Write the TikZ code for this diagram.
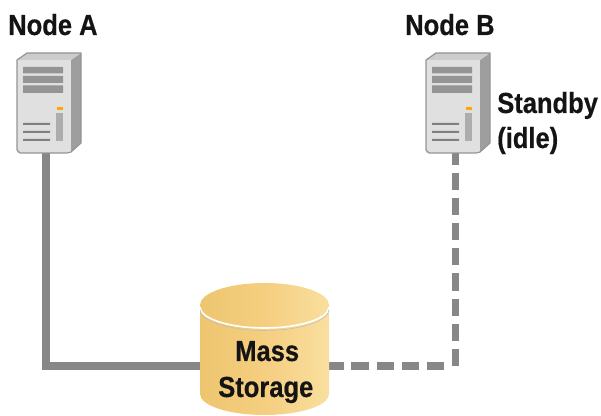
\documentclass[tikz,border=0pt]{standalone}
\usepackage{fontspec}
\setmainfont[FakeStretch=0.88,BoldFeatures={FakeBold=0.5}]{Liberation Sans}
\tikzset{
  x=0.75pt,y=-0.75pt,
  lbl/.style={anchor=base west,inner sep=0pt,font=\fontsize{21.75pt}{26pt}\selectfont\bfseries,text=black!92},
  box/.style={inner sep=0pt,draw=none},
  link/.style={line width=5.6pt,draw=black!47,line join=miter},
  dashlink/.style={link,dash pattern=on 12.9pt off 6pt},
  hdashlink/.style={link,dash pattern=on 13pt off 5.8pt},
  pics/server/.style={code={
    \fill[black!38] (54,7) -- (64,0) -- (64,90) -- (54,99) -- cycle;
    \fill[black!20] (0,7) -- (10,0) -- (64,0) -- (54,7) -- cycle;
    \fill[black!12] (0,7) rectangle (54,100);
    \draw[black!42,line width=0.9pt,line join=round] (0,7) -- (10,0) -- (64,0) -- (64,90) -- (54,99) -- (50,100) -- (3,100) -- (0,97) -- cycle;
    \fill[black!42] (6,14) rectangle (46,20.5) (6,23) rectangle (46,30) (6,32.5) rectangle (46,40);
    \fill[black!50] (6,70) rectangle (33,72) (6,78) rectangle (33,80) (6,86) rectangle (33,88);
    \fill[black!32] (39,60) rectangle (46,88);
    \fill[orange!70!yellow] (40,54) rectangle (46,57);
  }}
}
\definecolor{cylL}{HTML}{EEC670}
\definecolor{cylM}{HTML}{F5CE80}
\definecolor{cylR}{HTML}{F9DF9F}
\begin{document}
\begin{tikzpicture}
\useasboundingbox (0,0) rectangle (601,416);
\node[box,minimum width=40.5pt,minimum height=75pt] (serverA) at (44,103) {};
\node[box,minimum width=40.5pt,minimum height=75pt] (serverB) at (453,103) {};
\node[box,minimum width=96.75pt,minimum height=60pt] (store) at (264.5,366) {};
\coordinate (cornerA) at (46,366);
\coordinate (cornerB) at (455.5,370);
\coordinate (dashH) at (444,366);
\coordinate (srvAout) at (46,150);
\coordinate (srvBout) at (455.5,147.5);
% connectors
\draw[link] (srvAout) -- (cornerA) -- (store.west);
\draw[dashlink] (srvBout) -- (cornerB);
\draw[hdashlink] (dashH) -- (store.east);
% servers
\pic at (17,53) {server};
\pic at (426,53) {server};
% storage
\shade[left color=cylL,right color=cylR,middle color=cylM]
  (200,305) -- (200,394) arc[start angle=180,end angle=0,x radius=64.5,y radius=21] -- (329,305)
  arc[start angle=0,end angle=-180,x radius=64.5,y radius=22];
\draw[white,line width=1.2pt] (200,307) arc[start angle=180,end angle=0,x radius=64.5,y radius=21];
\draw[black!25,line width=0.4pt] (200,309.5) arc[start angle=180,end angle=0,x radius=64.5,y radius=21];
% labels
\node[lbl] (labA) at (8,35) {Node A};
\node[lbl] (labB) at (405,35) {Node B};
\node[lbl] (labS) at (497,113) {Standby};
\node[lbl] (labI) at (497,148) {(idle)};
\node[lbl] (labM) at (235,361) {Mass};
\node[lbl] (labG) at (218,397) {Storage};
\end{tikzpicture}
\end{document}
